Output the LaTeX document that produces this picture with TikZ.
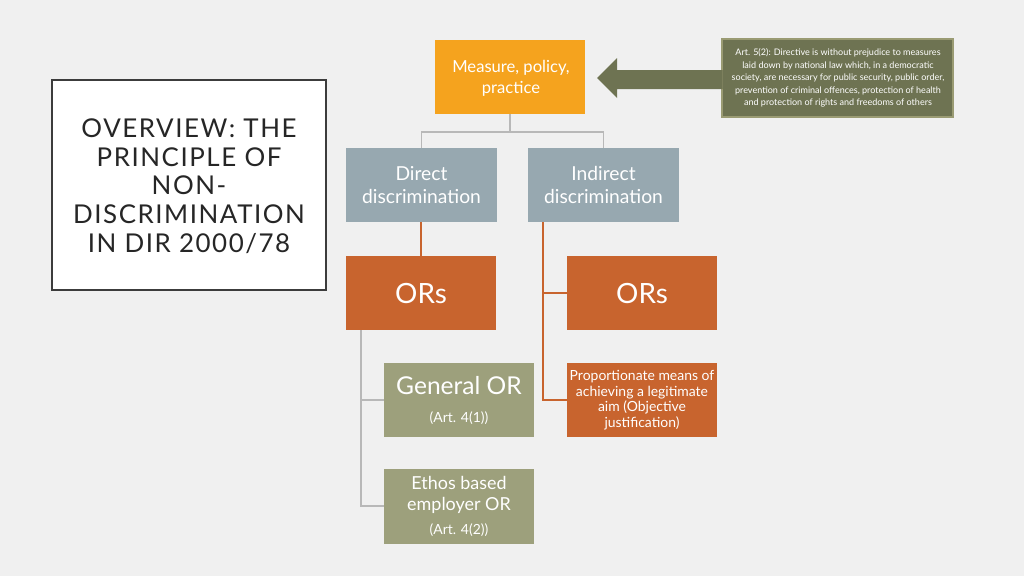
\documentclass[tikz,border=0pt]{standalone}
\usepackage{fontspec}
\setmainfont{Lato}
\newfontfamily\titlefont[LetterSpace=6]{Lato}
\definecolor{bg}{HTML}{F0F0F0}
\definecolor{orangetop}{HTML}{F5A31E}
\definecolor{olivedark}{HTML}{6E7352}
\definecolor{oliveedge}{HTML}{9A9B73}
\definecolor{bluegray}{HTML}{97A8B0}
\definecolor{rust}{HTML}{C8642E}
\definecolor{olivelight}{HTML}{9DA07C}
\definecolor{linegray}{HTML}{B8B8B8}
\definecolor{titletext}{HTML}{262626}
\begin{document}
\begin{tikzpicture}[x=0.0264583cm,y=-0.0264583cm,
  blk/.style={draw=none, inner sep=0pt, text=white, align=center},
  tree/.style={draw=linegray, line width=1pt},
  rustline/.style={draw=rust, line width=1.2pt}]
\fill[bg] (0,0) rectangle (1024,576);
\useasboundingbox (0,0) rectangle (1024,576);

% title box
\draw[draw=titletext!90, line width=1.8pt, fill=white] (52,80) rectangle (326,290);
\node[text=titletext, align=center, font=\titlefont\fontsize{19.5}{21.6}\selectfont] (title) at (189,186)
  {OVERVIEW: THE\\PRINCIPLE OF\\NON-\\DISCRIMINATION\\IN DIR 2000/78};

% measure box
\fill[orangetop] (435,40) rectangle (585,114);
\node[blk, font=\fontsize{12.5}{16}\selectfont] (measure) at (511,78) {Measure, policy,\\practice};
\coordinate (mbot) at (510,114);

% art 5(2) box
\draw[draw=oliveedge, line width=0.8pt, fill=olivedark] (722,39) rectangle (953,117);
\node[blk, font=\fontsize{6.8}{9.4}\selectfont] (art5) at (838,78)
  {Art. 5(2): Directive is without prejudice to measures\\laid down by national law which, in a democratic\\society, are necessary for public security, public order,\\prevention of criminal offences, protection of health\\and protection of rights and freedoms of others};
% block arrow
\fill[olivedark] (597,78) -- (617,58) -- (617,70) -- (722.5,70) -- (722.5,89) -- (617,89) -- (617,98) -- cycle;

% direct / indirect
\fill[bluegray] (346,148) rectangle (497,222);
\node[blk, font=\fontsize{14.5}{17}\selectfont] (direct) at (421.5,185) {Direct\\discrimination};
\fill[bluegray] (528,148) rectangle (679,222);
\node[blk, font=\fontsize{14.5}{17}\selectfont] (indirect) at (603.5,185) {Indirect\\discrimination};

% tree from measure
\draw[tree] (mbot) -- (510,132) -| (421.5,148);
\draw[tree] (510,132) -| (603.5,148);

% ORs
\fill[rust] (346,256) rectangle (496,330);
\node[blk, font=\fontsize{21}{24}\selectfont] (orsL) at (421,293) {ORs};
\fill[rust] (567,256) rectangle (717,330);
\node[blk, font=\fontsize{21}{24}\selectfont] (orsR) at (642,293) {ORs};
\draw[rustline] (421,222) -- (421,256);

% proportionate
\fill[rust] (567,363) rectangle (717,437);
\node[blk, font=\fontsize{10.5}{11.8}\selectfont] (prop) at (642,400)
  {Proportionate means of\\achieving a legitimate\\aim (Objective\\justification)};
\draw[rustline] (543,222) -- (543,400) -- (567,400);
\draw[rustline] (543,293) -- (567,293);

% general OR
\fill[olivelight] (384,363) rectangle (534,437);
\node[blk, font=\fontsize{18.5}{20}\selectfont] (general) at (459,386) {General OR};
\node[blk, font=\fontsize{10.5}{12}\selectfont] (art41) at (459,418) {(Art. 4(1))};

% ethos
\fill[olivelight] (384,469) rectangle (534,544);
\node[blk, font=\fontsize{13.5}{15.5}\selectfont] (ethos) at (459,495) {Ethos based\\employer OR};
\node[blk, font=\fontsize{10.5}{12}\selectfont] (art42) at (459,530) {(Art. 4(2))};

\draw[tree] (361,330) -- (361,506) -- (384,506);
\draw[tree] (361,400) -- (384,400);
\end{tikzpicture}
\end{document}
